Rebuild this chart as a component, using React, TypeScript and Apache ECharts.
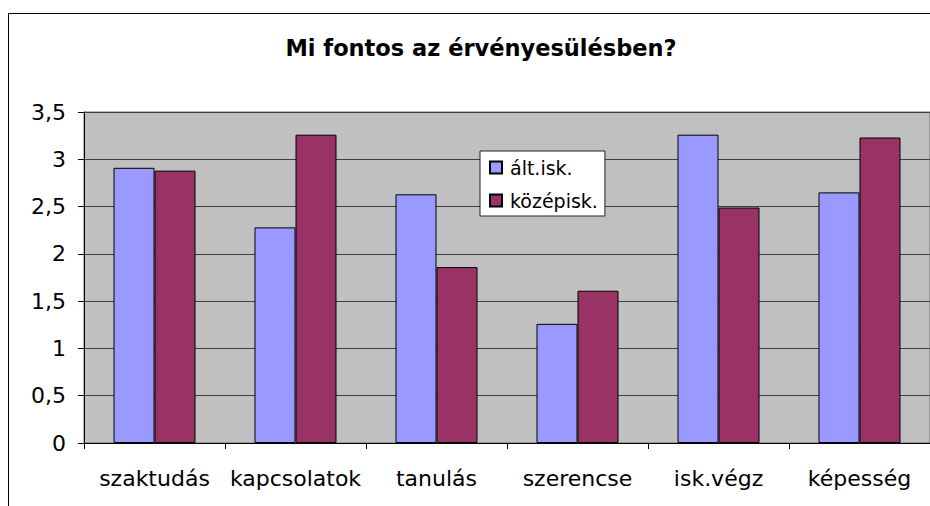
import React, { useEffect, useRef } from "react";
import * as echarts from "echarts";

const titleText = "Mi fontos az érvényesülésben?";
const categories = ["szaktudás", "kapcsolatok", "tanulás", "szerencse", "isk.végz", "képesség"];
const seriesNames = ["ált.isk.", "középisk."];
const altIsk = [2.91, 2.28, 2.63, 1.26, 3.26, 2.65];
const kozepIsk = [2.88, 3.26, 1.86, 1.61, 2.49, 3.23];
const yTicks = { min: 0, max: 3.5, interval: 0.5 };

const FONT = "DejaVu Sans";

export default function App() {
  const ref = useRef<HTMLDivElement>(null);
  useEffect(() => {
    if (!ref.current) return;
    const chart = echarts.init(ref.current, null, { renderer: "svg" });
    chart.setOption({
      animation: false,
      backgroundColor: "#FFFFFF",
      title: {
        text: titleText,
        left: 476,
        textAlign: "center",
        top: 31,
        textStyle: { fontFamily: FONT, fontWeight: "bold", fontSize: 22.5, color: "#000" },
      },
      graphic: [
        {
          type: "rect",
          shape: { x: 8.5, y: 13.5, width: 1000, height: 600 },
          style: { fill: "none", stroke: "#000", lineWidth: 1 },
          z: 100,
        },
      ],
      legend: {
        orient: "vertical",
        left: 480,
        top: 151,
        itemWidth: 12,
        itemHeight: 12,
        itemGap: 14,
        icon: "rect",
        backgroundColor: "#FFFFFF",
        borderColor: "#222",
        borderWidth: 1,
        borderRadius: 0,
        padding: [7, 7, 6, 9],
        textStyle: { fontFamily: FONT, fontSize: 19, color: "#000", padding: [0, 0, 0, 3] },
        data: seriesNames,
      },
      grid: {
        left: 84,
        top: 112,
        width: 850,
        height: 331,
        show: true,
        backgroundColor: "#C0C0C0",
        borderColor: "#707070",
        borderWidth: 1,
        containLabel: false,
      },
      xAxis: {
        type: "category",
        data: categories,
        axisLine: { lineStyle: { color: "#000", width: 1 } },
        axisTick: { show: true, length: 6, lineStyle: { color: "#000" } },
        axisLabel: { fontFamily: FONT, fontSize: 22, color: "#000", margin: 24, interval: 0 },
        splitLine: { show: false },
      },
      yAxis: {
        type: "value",
        min: yTicks.min,
        max: yTicks.max,
        interval: yTicks.interval,
        axisLine: { show: true, lineStyle: { color: "#000", width: 1 } },
        axisTick: { show: true, length: 6, lineStyle: { color: "#000" } },
        axisLabel: {
          fontFamily: FONT,
          fontSize: 22,
          color: "#000",
          margin: 18,
          formatter: (v: number) => String(v).replace(".", ","),
        },
        splitLine: { show: true, lineStyle: { color: "#404040", width: 1 } },
      },
      series: [
        {
          name: seriesNames[0],
          type: "bar",
          data: altIsk,
          barWidth: 41,
          barGap: "0%",
          itemStyle: { color: "#9999FF", borderColor: "#000", borderWidth: 1 },
        },
        {
          name: seriesNames[1],
          type: "bar",
          data: kozepIsk,
          barWidth: 41,
          barGap: "0%",
          itemStyle: { color: "#993366", borderColor: "#000", borderWidth: 1 },
        },
      ],
    });
    return () => chart.dispose();
  }, []);
  return (
    <div
      ref={ref}
      style={{ position: "fixed", left: 0, top: 0, width: 930, height: 506 }}
    />
  );
}
